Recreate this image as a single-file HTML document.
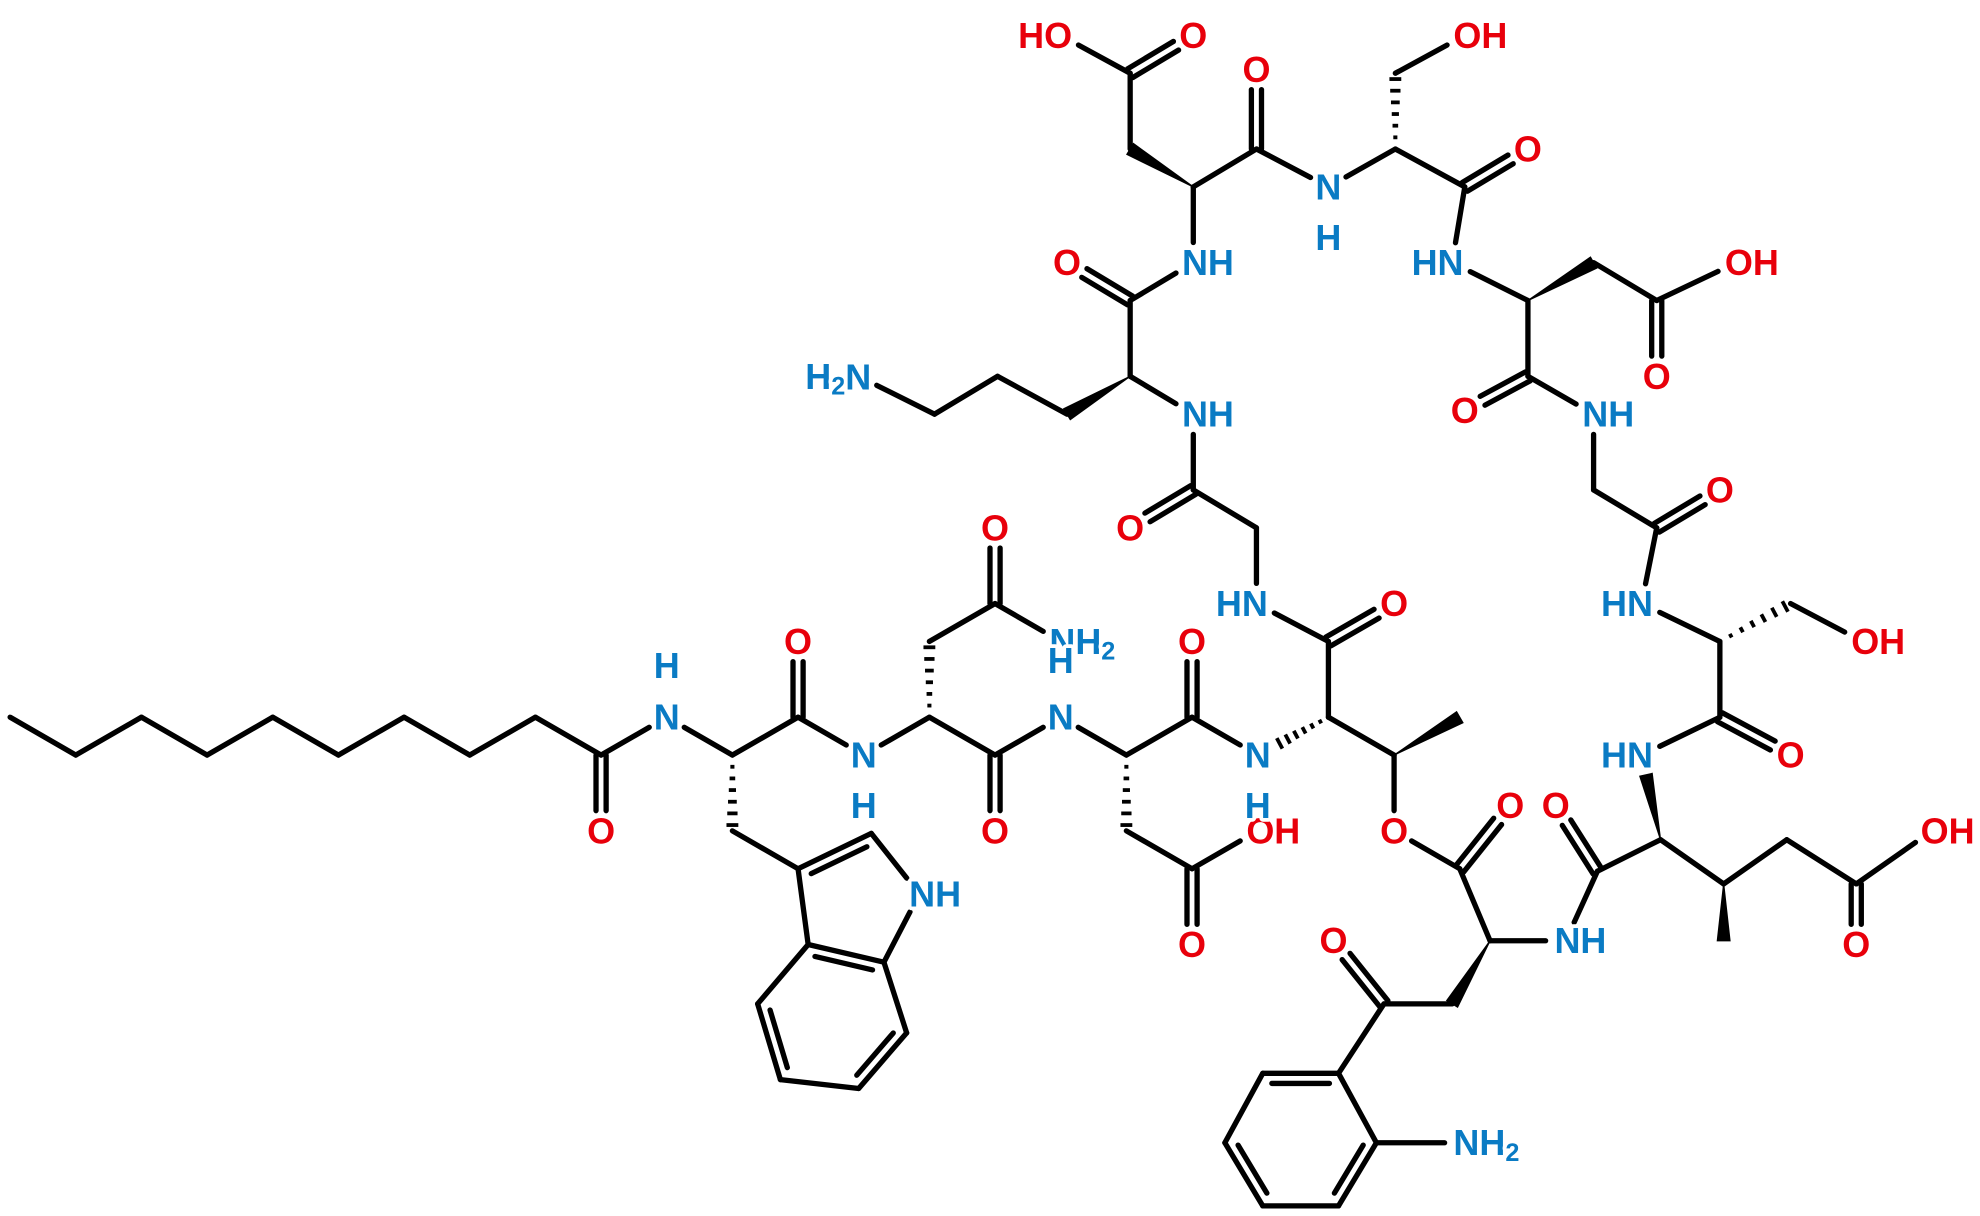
<!DOCTYPE html>
<html><head><meta charset="utf-8"><style>
html,body{margin:0;padding:0;background:#fff;}
svg{display:block;}
text{font-family:"Liberation Sans",sans-serif;font-weight:bold;font-size:28.5px;paint-order:stroke;stroke:#fff;stroke-width:6px;stroke-linejoin:round;}
.o{fill:#e8000b;}
.n{fill:#0a7bc4;}
</style></head><body>
<svg id="s" width="1980" height="1216" viewBox="0 0 1568 963" preserveAspectRatio="none" xmlns="http://www.w3.org/2000/svg">
<g id="b" stroke="#000" stroke-width="4.2" stroke-linecap="round" fill="#000"></g>
<g id="labels" dominant-baseline="central">
<text class="o" x="476" y="658" text-anchor="middle">O</text>
<text class="n" x="528" y="568" text-anchor="middle">N</text>
<text class="n" x="528" y="527" text-anchor="middle">H</text>
<text class="o" x="632" y="508" text-anchor="middle">O</text>
<text class="n" x="684" y="598" text-anchor="middle">N</text>
<text class="n" x="684" y="638" text-anchor="middle">H</text>
<text class="n" x="720" y="708" text-anchor="start">NH</text>
<text class="o" x="788" y="418" text-anchor="middle">O</text>
<text class="n" x="831" y="508" text-anchor="start">NH<tspan font-size="20" dy="8">2</tspan></text>
<text class="n" x="840" y="523" text-anchor="middle" font-size="25">H</text>
<text class="o" x="788" y="658" text-anchor="middle">O</text>
<text class="n" x="840" y="568" text-anchor="middle">N</text>
<text class="o" x="944" y="748" text-anchor="middle">O</text>
<text class="o" x="987" y="658" text-anchor="start">OH</text>
<text class="o" x="944" y="508" text-anchor="middle">O</text>
<text class="n" x="996" y="598" text-anchor="middle">N</text>
<text class="n" x="996" y="638" text-anchor="middle">H</text>
<text class="o" x="1104" y="478" text-anchor="middle">O</text>
<text class="o" x="1104" y="658" text-anchor="middle">O</text>
<text class="n" x="1004" y="478" text-anchor="end">HN</text>
<text class="o" x="895" y="418" text-anchor="middle">O</text>
<text class="n" x="936" y="328" text-anchor="start">NH</text>
<text class="o" x="845" y="208" text-anchor="middle">O</text>
<text class="n" x="690" y="298" text-anchor="end">H<tspan font-size="20" dy="8">2</tspan><tspan dy="-8">N</tspan></text>
<text class="n" x="936" y="208" text-anchor="start">NH</text>
<text class="o" x="945" y="28" text-anchor="middle">O</text>
<text class="o" x="849" y="28" text-anchor="end">HO</text>
<text class="o" x="995" y="55" text-anchor="middle">O</text>
<text class="n" x="1052" y="148" text-anchor="middle">N</text>
<text class="n" x="1052" y="188" text-anchor="middle">H</text>
<text class="o" x="1151" y="28" text-anchor="start">OH</text>
<text class="o" x="1210" y="118" text-anchor="middle">O</text>
<text class="n" x="1159" y="208" text-anchor="end">HN</text>
<text class="o" x="1312" y="298" text-anchor="middle">O</text>
<text class="o" x="1366" y="208" text-anchor="start">OH</text>
<text class="o" x="1160" y="325" text-anchor="middle">O</text>
<text class="n" x="1253" y="328" text-anchor="start">NH</text>
<text class="o" x="1362" y="388" text-anchor="middle">O</text>
<text class="n" x="1309" y="478" text-anchor="end">HN</text>
<text class="o" x="1466" y="508" text-anchor="start">OH</text>
<text class="o" x="1418" y="598" text-anchor="middle">O</text>
<text class="n" x="1309" y="598" text-anchor="end">HN</text>
<text class="o" x="1232" y="638" text-anchor="middle">O</text>
<text class="o" x="1470" y="748" text-anchor="middle">O</text>
<text class="o" x="1521" y="658" text-anchor="start">OH</text>
<text class="n" x="1231" y="745" text-anchor="start">NH</text>
<text class="o" x="1196" y="638" text-anchor="middle">O</text>
<text class="o" x="1056" y="745" text-anchor="middle">O</text>
<text class="n" x="1151" y="905" text-anchor="start">NH<tspan font-size="20" dy="8">2</tspan></text>
</g>
</svg>
<script>
var A={c0:[8,568],c1:[60,598],c2:[112,568],c3:[164,598],c4:[216,568],c5:[268,598],c6:[320,568],c7:[372,598],c8:[424,568],c9:[476,598],O1:[476,658],N1:[528,568],
Ta:[580,598],Tb:[580,658],Tc:[632,568],TO:[632,508],N2:[684,598],
C3:[632,688],C2:[690,660],Ni:[728,708],C7a:[700,762],C3a:[640,748],C4:[600,795],C5:[618,855],C6:[680,862],C7:[718,818],
Aa:[736,568],Ab:[736,508],Ac:[788,478],AO:[788,418],AN:[840,508],Acc:[788,598],AcO:[788,658],N3:[840,568],
Da:[892,598],Db:[892,658],Dc:[944,688],DO:[944,748],DOH:[996,658],Dcc:[944,568],DcO:[944,508],N4:[996,598],
Tha:[1052,568],Thc:[1052,508],ThO:[1104,478],Thb:[1104,598],ThMe:[1156,568],ThOe:[1104,658],
HN5:[995,478],G1:[995,418],G1c:[945,388],G1O:[895,418],N6:[945,328],
Oa:[895,298],Oc:[895,238],OO:[845,208],O1c:[845,328],O2c:[790,298],O3c:[740,328],ON:[680,298],
N7:[945,208],D2a:[945,148],D2b:[895,118],D2c:[895,58],D2O:[945,28],D2OH:[840,28],D2cc:[995,118],D2cO:[995,55],N8:[1052,148],
Sa:[1105,118],Sb:[1105,58],SOH:[1160,28],Sc:[1160,148],SO:[1210,118],N9:[1150,208],
D3a:[1210,238],D3b:[1262,208],D3c:[1312,238],D3O:[1312,298],D3OH:[1375,208],D3cc:[1210,298],D3cO:[1160,325],N10:[1262,328],
G2:[1262,388],G2c:[1312,418],G2O:[1362,388],N11:[1300,478],
S2a:[1362,508],S2b:[1418,478],S2OH:[1475,508],S2c:[1362,568],S2O:[1418,598],N12:[1300,598],
Ma:[1315,665],Mc:[1265,690],MO:[1232,638],Mb:[1365,700],MMe:[1365,745],Mg:[1415,665],Mcc:[1470,700],MO2:[1470,748],MOH:[1530,658],
N13:[1240,745],Ka:[1180,745],Kc:[1156,688],KO:[1196,638],Kb:[1150,795],Kk:[1096,795],KkO:[1056,745],
p1:[1060,850],p2:[1000,850],p3:[970,905],p4:[1000,955],p5:[1060,955],p6:[1090,905],PN:[1160,905]};
var L=['O1','N1','TO','N2','Ni','AO','AN','AcO','N3','DO','DOH','DcO','N4','ThO','ThOe','HN5','G1O','N6','OO','ON','N7','D2O','D2OH','D2cO','N8','SOH','SO','N9','D3O','D3OH','D3cO','N10','G2O','N11','S2OH','S2O','N12','MO','MO2','MOH','N13','KO','KkO','PN'];
var B=[['c0','c1'],['c1','c2'],['c2','c3'],['c3','c4'],['c4','c5'],['c5','c6'],['c6','c7'],['c7','c8'],['c8','c9'],['c9','O1',2],['c9','N1'],['N1','Ta'],['Ta','Tb','h'],['Tb','C3'],['Ta','Tc'],['Tc','TO',2],['Tc','N2'],
['C3','C2','r',[675,715]],['C2','Ni'],['Ni','C7a'],['C7a','C3a','r',[660,800]],['C3a','C3'],['C3a','C4'],['C4','C5','r',[660,800]],['C5','C6'],['C6','C7','r',[660,800]],['C7','C7a'],
['N2','Aa'],['Aa','Ab','h'],['Ab','Ac'],['Ac','AO',2],['Ac','AN'],['Aa','Acc'],['Acc','AcO',2],['Acc','N3'],
['N3','Da'],['Da','Db','h'],['Db','Dc'],['Dc','DO',2],['Dc','DOH'],['Da','Dcc'],['Dcc','DcO',2],['Dcc','N4'],
['Tha','N4','h'],['Tha','Thc'],['Thc','ThO',2],['Thc','HN5'],['Tha','Thb'],['Thb','ThMe','w'],['Thb','ThOe'],
['HN5','G1'],['G1','G1c'],['G1c','G1O',2],['G1c','N6'],['N6','Oa'],['Oa','Oc'],['Oc','OO',2],['Oa','O1c','w'],['O1c','O2c'],['O2c','O3c'],['O3c','ON'],['Oc','N7'],
['N7','D2a'],['D2a','D2b','w'],['D2b','D2c'],['D2c','D2O',2],['D2c','D2OH'],['D2a','D2cc'],['D2cc','D2cO',2],['D2cc','N8'],
['N8','Sa'],['Sa','Sb','h'],['Sb','SOH'],['Sa','Sc'],['Sc','SO',2],['Sc','N9'],
['N9','D3a'],['D3a','D3b','w'],['D3b','D3c'],['D3c','D3O',2],['D3c','D3OH'],['D3a','D3cc'],['D3cc','D3cO',2],['D3cc','N10'],
['N10','G2'],['G2','G2c'],['G2c','G2O',2],['G2c','N11'],['N11','S2a'],['S2a','S2b','h'],['S2b','S2OH'],['S2a','S2c'],['S2c','S2O',2],['S2c','N12'],
['Ma','N12','w'],['Ma','Mc'],['Mc','MO',2],['Mc','N13'],['Ma','Mb'],['Mb','MMe','w'],['Mb','Mg'],['Mg','Mcc'],['Mcc','MO2',2],['Mcc','MOH'],
['N13','Ka'],['Ka','Kc'],['Kc','KO',2],['Kc','ThOe'],['Ka','Kb','w'],['Kb','Kk'],['Kk','KkO',2],['Kk','p1'],
['p1','p2','r',[1030,903]],['p2','p3'],['p3','p4','r',[1030,903]],['p4','p5'],['p5','p6','r',[1030,903]],['p6','p1'],['p6','PN']];
var g=document.getElementById('b'),NS='http://www.w3.org/2000/svg';
function ln(x1,y1,x2,y2){var e=document.createElementNS(NS,'line');e.setAttribute('x1',x1);e.setAttribute('y1',y1);e.setAttribute('x2',x2);e.setAttribute('y2',y2);g.appendChild(e);}
function trim(k,p,q){if(L.indexOf(k)<0)return p;var dx=q[0]-p[0],dy=q[1]-p[1],d=Math.hypot(dx,dy),r=16;return [p[0]+dx/d*r,p[1]+dy/d*r];}
B.forEach(function(b){var a=A[b[0]],c=A[b[1]];var p=trim(b[0],a,c),q=trim(b[1],c,a);
var dx=q[0]-p[0],dy=q[1]-p[1],d=Math.hypot(dx,dy),nx=-dy/d,ny=dx/d,t=b[2];
if(t==2){ln(p[0]+nx*4,p[1]+ny*4,q[0]+nx*4,q[1]+ny*4);ln(p[0]-nx*4,p[1]-ny*4,q[0]-nx*4,q[1]-ny*4);}
else if(t=='r'){ln(p[0],p[1],q[0],q[1]);var ct=b[3],mx=(p[0]+q[0])/2,my=(p[1]+q[1])/2,s=((ct[0]-mx)*nx+(ct[1]-my)*ny)>0?1:-1;
 ln(p[0]+nx*8*s+dx*0.12,p[1]+ny*8*s+dy*0.12,q[0]+nx*8*s-dx*0.12,q[1]+ny*8*s-dy*0.12);}
else if(t=='w'){var e=document.createElementNS(NS,'polygon');e.setAttribute('stroke-width','1');
 e.setAttribute('points',p[0]+','+p[1]+' '+(q[0]+nx*5)+','+(q[1]+ny*5)+' '+(q[0]-nx*5)+','+(q[1]-ny*5));g.appendChild(e);}
else if(t=='h'){for(var i=1;i<=6;i++){var f=i/6.5,w=1+4*f,x=p[0]+dx*f,y=p[1]+dy*f;var e=document.createElementNS(NS,'line');
 e.setAttribute('x1',x+nx*w);e.setAttribute('y1',y+ny*w);e.setAttribute('x2',x-nx*w);e.setAttribute('y2',y-ny*w);e.setAttribute('stroke-width','3');e.setAttribute('stroke-linecap','butt');g.appendChild(e);}}
else ln(p[0],p[1],q[0],q[1]);});
</script>
</body></html>
